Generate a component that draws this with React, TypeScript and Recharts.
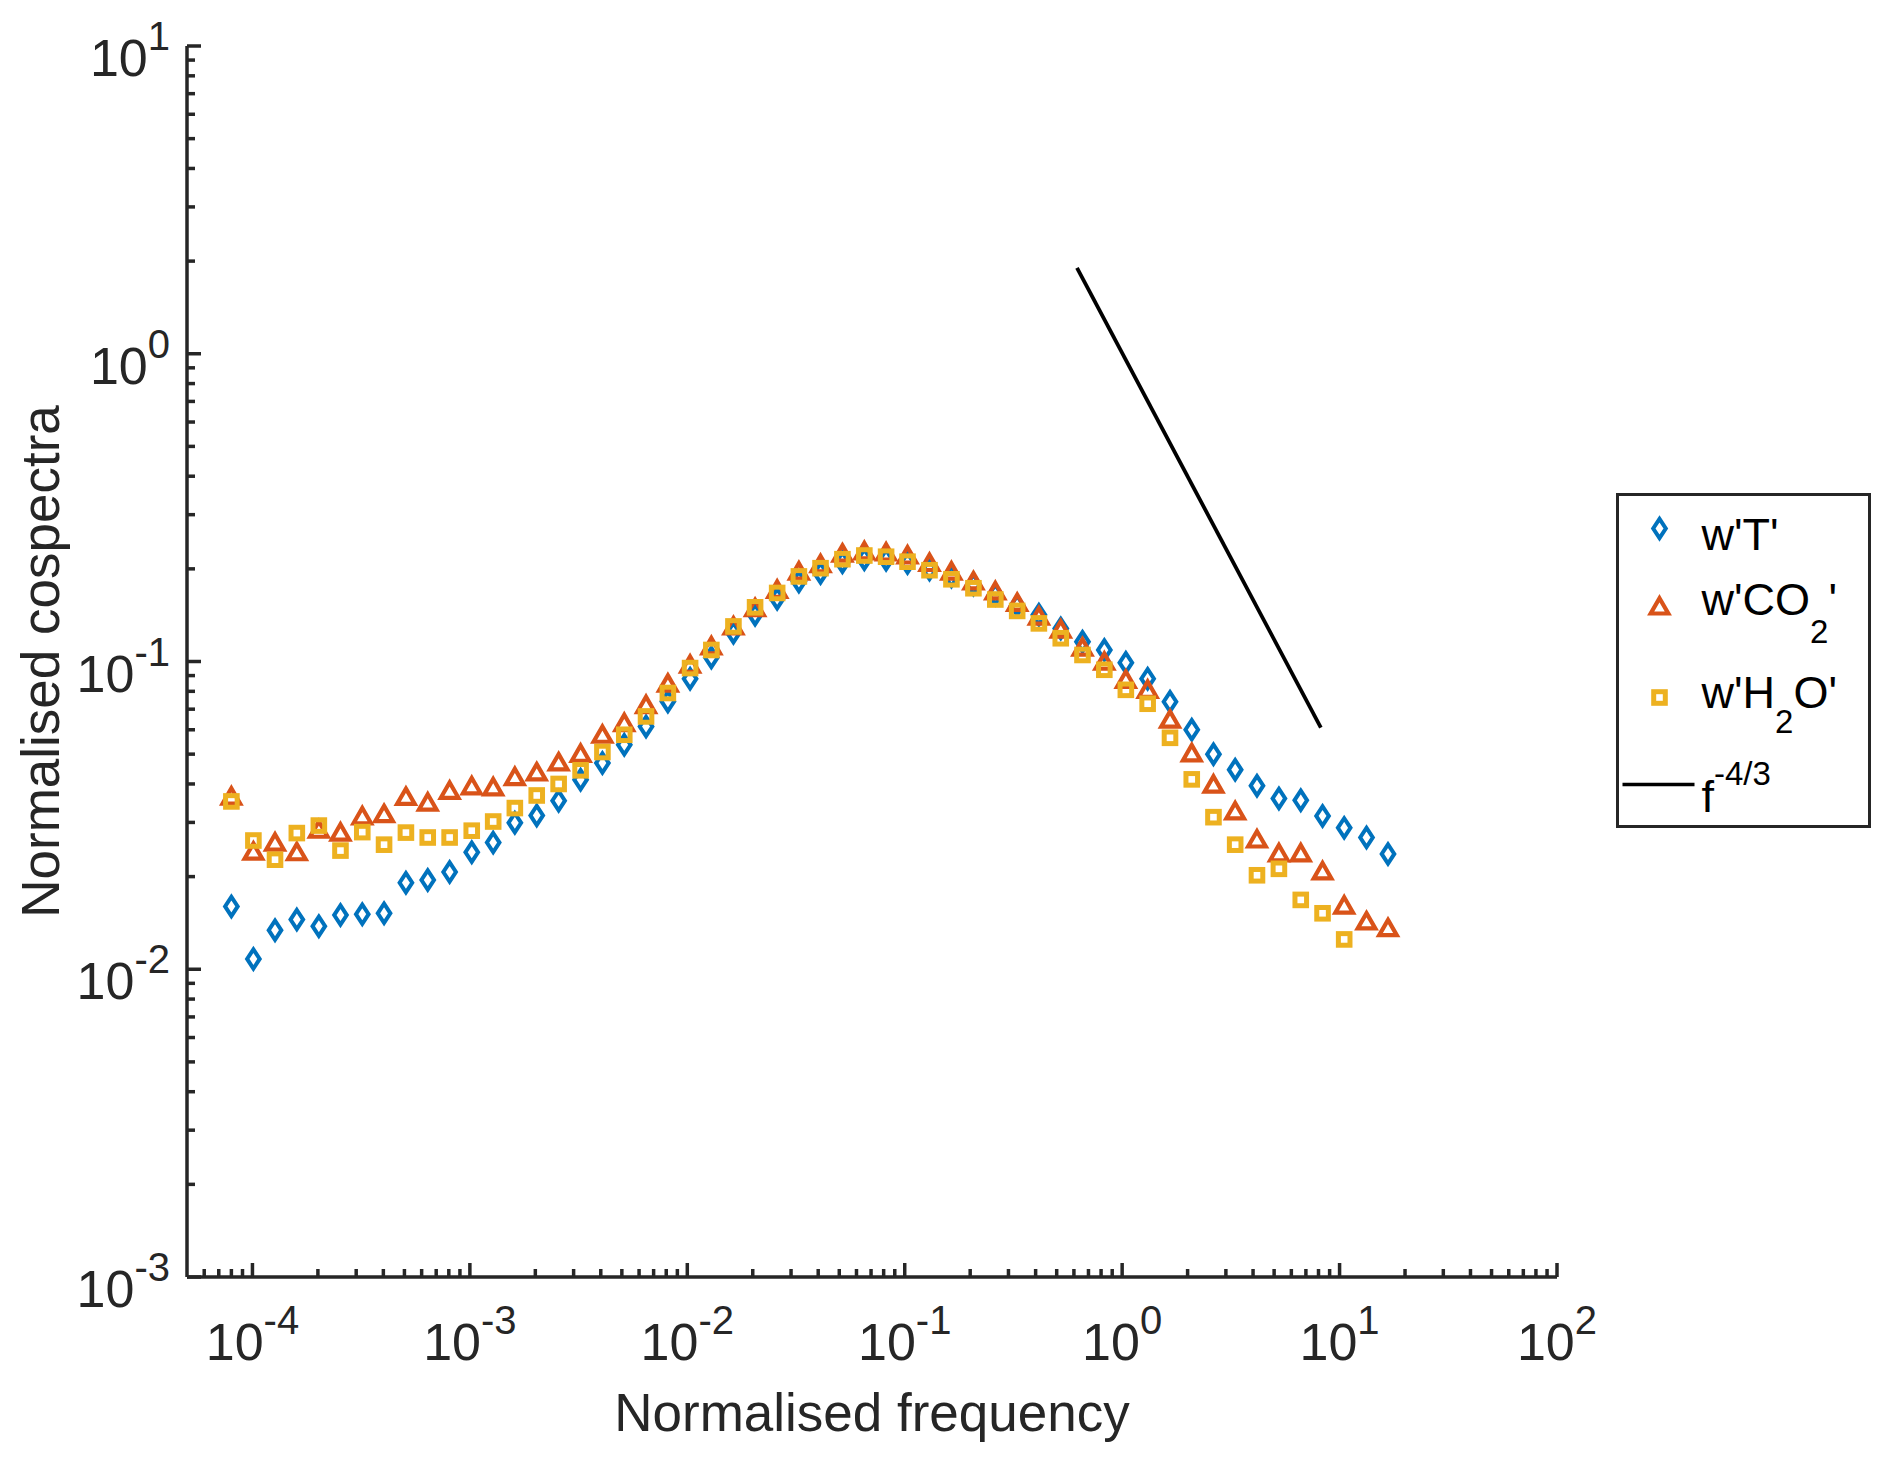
import { ScatterChart, Scatter, XAxis, YAxis, Legend } from 'recharts';

// normalised frequency of each spectral bin
const freq = [
  8.0e-5, 1.01e-4, 1.27e-4, 1.6e-4, 2.02e-4, 2.54e-4, 3.2e-4, 4.03e-4, 5.08e-4, 6.4e-4,
  8.07e-4, 1.02e-3, 1.28e-3, 1.61e-3, 2.03e-3, 2.56e-3, 3.23e-3, 4.07e-3, 5.13e-3, 6.46e-3,
  8.14e-3, 0.0103, 0.0129, 0.0163, 0.0205, 0.0259, 0.0326, 0.041, 0.0517, 0.0652,
  0.0821, 0.103, 0.13, 0.164, 0.207, 0.261, 0.329, 0.414, 0.522, 0.657,
  0.828, 1.04, 1.31, 1.66, 2.09, 2.63, 3.31, 4.17, 5.26, 6.63,
  8.35, 10.5, 13.3, 16.7,
];

const wT = [
  0.016, 0.0108, 0.0134, 0.0145, 0.0138, 0.015, 0.0151, 0.0152, 0.0191, 0.0195,
  0.0207, 0.024, 0.0258, 0.0299, 0.0316, 0.0353, 0.0413, 0.0468, 0.0536, 0.0615,
  0.0742, 0.0879, 0.103, 0.124, 0.142, 0.16, 0.182, 0.194, 0.21, 0.215,
  0.214, 0.209, 0.199, 0.189, 0.178, 0.165, 0.152, 0.142, 0.128, 0.116,
  0.109, 0.0991, 0.0879, 0.074, 0.06, 0.05, 0.0445, 0.0395, 0.0359, 0.0354,
  0.0315, 0.0288, 0.0268, 0.0237,
];

const wCO2 = [
  0.0364, 0.0241, 0.0258, 0.024, 0.0284, 0.0278, 0.0314, 0.0319, 0.0363, 0.0348,
  0.038, 0.0393, 0.039, 0.0421, 0.0436, 0.047, 0.0501, 0.0578, 0.0631, 0.0722,
  0.0847, 0.0976, 0.112, 0.13, 0.149, 0.171, 0.196, 0.207, 0.224, 0.228,
  0.226, 0.221, 0.209, 0.196, 0.182, 0.169, 0.155, 0.14, 0.127, 0.111,
  0.0998, 0.0872, 0.0809, 0.0647, 0.0503, 0.0398, 0.0326, 0.0264, 0.0238, 0.0238,
  0.0208, 0.0161, 0.0143, 0.0136,
];

const wH2O = [
  0.0351, 0.0262, 0.0227, 0.0277, 0.0293, 0.0243, 0.0279, 0.0254, 0.0278, 0.0268,
  0.0268, 0.0282, 0.0302, 0.0334, 0.0367, 0.04, 0.0443, 0.0508, 0.0578, 0.0663,
  0.079, 0.0952, 0.109, 0.13, 0.15, 0.167, 0.189, 0.201, 0.215, 0.221,
  0.219, 0.211, 0.198, 0.185, 0.173, 0.159, 0.146, 0.133, 0.119, 0.105,
  0.094, 0.0809, 0.0729, 0.0565, 0.0414, 0.0312, 0.0254, 0.0202, 0.0212, 0.0168,
  0.0152, 0.0125,
];

// f^-4/3 reference slope
const slopeX = [0.62, 8.2];
const slopeY = [1.9, 0.061];

const xMajor = [1e-4, 1e-3, 1e-2, 1e-1, 1, 10, 100];
const yMajor = [1e-3, 1e-2, 1e-1, 1, 10];
const minorSteps = [2, 3, 4, 5, 6, 7, 8, 9];

const xMinor = [
  ...[6, 7, 8, 9].map((m) => m * 1e-5),
  ...xMajor.slice(0, -1).flatMap((d) => minorSteps.map((m) => m * d)),
];
const yMinor = yMajor.slice(0, -1).flatMap((d) => minorSteps.map((m) => m * d));

const INK = '#262626';
const BLUE = '#0072BD';
const RED = '#D95319';
const YELLOW = '#EDB120';
const FONT = '"Liberation Sans", Arial, Helvetica, sans-serif';

const W = 1876;
const H = 1442;
const PLOT_LEFT = 179;
const PLOT_TOP = 38;
const PLOT_W = 1370;
const PLOT_H = 1231;
const AXIS_W = 3.5;

const toPoints = (ys: number[]) => ys.map((y, i) => ({ x: freq[i], y }));
const slopeLine = slopeX.map((x, i) => ({ x, y: slopeY[i] }));

function Diamond({ cx, cy }: any) {
  return (
    <path
      d={`M${cx},${cy - 9.6}L${cx + 6.3},${cy}L${cx},${cy + 9.6}L${cx - 6.3},${cy}Z`}
      fill="none"
      stroke={BLUE}
      strokeWidth={4}
    />
  );
}

function Triangle({ cx, cy }: any) {
  return (
    <path
      d={`M${cx},${cy - 8.3}L${cx + 8.8},${cy + 7}L${cx - 8.8},${cy + 7}Z`}
      fill="none"
      stroke={RED}
      strokeWidth={4.2}
    />
  );
}

function Square({ cx, cy }: any) {
  return <rect x={cx - 5.8} y={cy - 5.8} width={11.6} height={11.6} fill="none" stroke={YELLOW} strokeWidth={5} />;
}

function Power({ x, y, value, anchor }: any) {
  return (
    <text x={x} y={y} textAnchor={anchor} fill={INK} fontFamily={FONT} fontSize={52}>
      10
      <tspan dy={-26} fontSize={40}>
        {String(Math.round(Math.log10(value)))}
      </tspan>
    </text>
  );
}

function XTick({ x, y, payload }: any) {
  const major = xMajor.includes(payload.value);
  return (
    <g>
      <line x1={x} y1={y} x2={x} y2={y - (major ? 14 : 8)} stroke={INK} strokeWidth={AXIS_W} />
      {major && <Power x={x} y={y + 83} value={payload.value} anchor="middle" />}
    </g>
  );
}

function YTick({ x, y, payload }: any) {
  const major = yMajor.includes(payload.value);
  return (
    <g>
      <line x1={x} y1={y} x2={x + (major ? 14 : 8)} y2={y} stroke={INK} strokeWidth={AXIS_W} />
      {major && <Power x={x - 17} y={y + 30} value={payload.value} anchor="end" />}
    </g>
  );
}

function LegendBox() {
  const b = 3.5;
  return (
    <div
      style={{
        width: 255,
        height: 335,
        boxSizing: 'border-box',
        border: `${b}px solid ${INK}`,
        background: '#fff',
      }}
    >
      <svg width={255 - 2 * b} height={335 - 2 * b} style={{ display: 'block' }}>
        <g transform={`translate(${-b},${-b})`} fontFamily={FONT} fill="#000">
          <Diamond cx={44} cy={36} />
          <text x={86} y={57} fontSize={45}>w'T'</text>
          <Triangle cx={44} cy={114} />
          <text x={86} y={122} fontSize={45}>
            w'CO
            <tspan dy={28} fontSize={33}>2</tspan>
            <tspan dy={-28}>'</tspan>
          </text>
          <Square cx={44} cy={205} />
          <text x={86} y={215} fontSize={45}>
            w'H
            <tspan dy={25} fontSize={33}>2</tspan>
            <tspan dy={-25}>O'</tspan>
          </text>
          <line x1={7} y1={292} x2={79} y2={292} stroke="#000" strokeWidth={3.5} />
          <text x={86} y={319} fontSize={45}>
            f<tspan dy={-27} fontSize={33}>-4/3</tspan>
          </text>
        </g>
      </svg>
    </div>
  );
}

export default function App() {
  return (
    <ScatterChart
      width={W}
      height={H}
      margin={{ top: PLOT_TOP, right: W - PLOT_LEFT - PLOT_W, bottom: 0, left: 0 }}
      style={{ background: '#fff' }}
    >
      <XAxis
        type="number"
        dataKey="x"
        scale="log"
        domain={[5e-5, 100]}
        allowDataOverflow
        ticks={[...xMajor, ...xMinor]}
        interval={0}
        tick={<XTick />}
        tickLine={false}
        tickSize={0}
        tickMargin={0}
        axisLine={{ stroke: INK, strokeWidth: AXIS_W }}
        height={H - PLOT_TOP - PLOT_H}
        label={{
          content: () => (
            <text
              x={PLOT_LEFT + PLOT_W / 2}
              y={1423}
              textAnchor="middle"
              fill={INK}
              fontFamily={FONT}
              fontSize={53}
            >
              Normalised frequency
            </text>
          ),
        }}
      />
      <YAxis
        type="number"
        dataKey="y"
        scale="log"
        domain={[1e-3, 10]}
        allowDataOverflow
        ticks={[...yMajor, ...yMinor]}
        interval={0}
        tick={<YTick />}
        tickLine={false}
        tickSize={0}
        tickMargin={0}
        axisLine={{ stroke: INK, strokeWidth: AXIS_W }}
        width={PLOT_LEFT}
        label={{
          content: () => (
            <text
              x={51}
              y={PLOT_TOP + PLOT_H / 2}
              textAnchor="middle"
              transform={`rotate(-90, 51, ${PLOT_TOP + PLOT_H / 2})`}
              fill={INK}
              fontFamily={FONT}
              fontSize={53}
            >
              Normalised cospectra
            </text>
          ),
        }}
      />
      <Scatter name="w'T'" data={toPoints(wT)} shape={<Diamond />} isAnimationActive={false} />
      <Scatter name="w'CO2'" data={toPoints(wCO2)} shape={<Triangle />} isAnimationActive={false} />
      <Scatter name="w'H2O'" data={toPoints(wH2O)} shape={<Square />} isAnimationActive={false} />
      <Scatter
        name="f-4/3"
        data={slopeLine}
        line={{ stroke: '#000', strokeWidth: 3.8 }}
        shape={() => <g />}
        isAnimationActive={false}
      />
      <Legend
        layout="vertical"
        align="center"
        verticalAlign="middle"
        wrapperStyle={{ left: 1608, top: 485, width: 255, height: 335 }}
        content={() => <LegendBox />}
      />
    </ScatterChart>
  );
}
